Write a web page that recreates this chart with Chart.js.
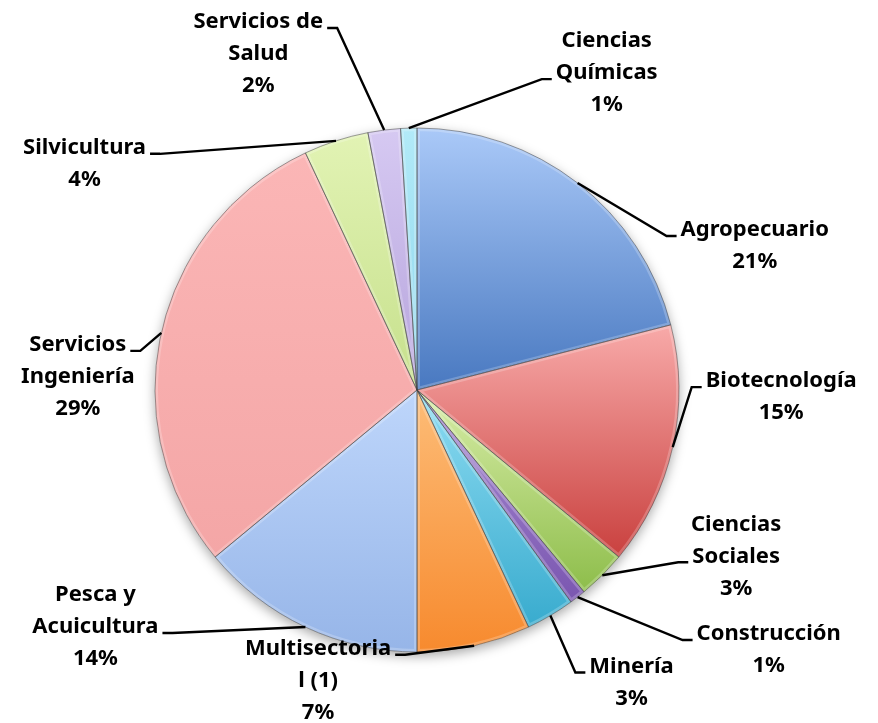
<!DOCTYPE html>
<html>
<head>
<meta charset="utf-8">
<script src="https://cdn.jsdelivr.net/npm/chart.js@4/dist/chart.umd.min.js"></script>
<style>
  body { margin: 0; background: #fff; }
  canvas { display: block; }
</style>
</head>
<body>
<canvas id="pie" width="878" height="723"></canvas>
<script>
// datos
const categories = [
  "Agropecuario", "Biotecnología", "Ciencias Sociales", "Construcción", "Minería",
  "Multisectorial (1)", "Pesca y Acuicultura", "Servicios Ingeniería", "Silvicultura",
  "Servicios de Salud", "Ciencias Químicas"
];
const values = [21, 15, 3, 1, 3, 7, 14, 29, 4, 2, 1];

// como se parten las etiquetas (igual que en el original)
const labelLines = [
  ["Agropecuario"], ["Biotecnología"], ["Ciencias", "Sociales"], ["Construcción"], ["Minería"],
  ["Multisectoria", "l (1)"], ["Pesca y", "Acuicultura"], ["Servicios", "Ingeniería"], ["Silvicultura"],
  ["Servicios de", "Salud"], ["Ciencias", "Químicas"]
];

// estilos
const lightColors = ["#aac9f8", "#f8aaa9", "#d8eda8", "#a88dd2", "#8edcf2", "#fdbd78",
                     "#bed6fb", "#fbb6b6", "#e2f3b4", "#d6c9f2", "#b2eaf8"];
const darkColors  = ["#4878c0", "#c9403e", "#8dbd4a", "#7a56b0", "#38abce", "#f78a2e",
                     "#96b5e8", "#f4a6a6", "#c6e08c", "#b6a4dc", "#8ed6ec"];

// codo de cada linea guia, relativo al punto medio del arco; 'line' = renglon al que llega
const labelOffsets = [
  { dx: 89, dy: 53, line: 0 },
  { dx: 19, dy: -60, line: 0 },
  { dx: 76, dy: -13, line: 1 },
  { dx: 105, dy: 43, line: 0 },
  { dx: 25, dy: 57, line: 0 },
  { dx: -69, dy: 9, line: 0 },
  { dx: -133, dy: 6, line: 1 },
  { dx: -21, dy: 18, line: 0 },
  { dx: -176, dy: 13, line: 0 },
  { dx: -47, dy: -102, line: 0 },
  { dx: 133, dy: -49, line: 1 }
];

const FONT = "bold 22px 'Noto Sans'";
const LINE_H = 32;

function arcPath(ctx, a) {
  ctx.beginPath();
  ctx.moveTo(a.x, a.y);
  ctx.arc(a.x, a.y, a.outerRadius, a.startAngle, a.endAngle);
  ctx.closePath();
}

const sliceStyle = {
  id: "sliceStyle",
  beforeDatasetsDraw(chart) {
    const ctx = chart.ctx;
    const arcs = chart.getDatasetMeta(0).data;
    // sombra del pastel
    const a0 = arcs[0].getProps(["x", "y", "outerRadius"]);
    ctx.save();
    ctx.shadowColor = "rgba(0,0,0,0.35)";
    ctx.shadowBlur = 12;
    ctx.shadowOffsetY = 4;
    ctx.beginPath();
    ctx.arc(a0.x, a0.y, a0.outerRadius, 0, Math.PI * 2);
    ctx.fillStyle = "#fff";
    ctx.fill();
    ctx.restore();
    // degradado vertical por sector
    arcs.forEach((arc, i) => {
      const a = arc.getProps(["x", "y", "startAngle", "endAngle", "outerRadius"]);
      let ys = [a.y, a.y + a.outerRadius * Math.sin(a.startAngle), a.y + a.outerRadius * Math.sin(a.endAngle)];
      [-Math.PI / 2, Math.PI / 2, Math.PI * 1.5].forEach(t => {
        if (t > a.startAngle && t < a.endAngle) ys.push(a.y + a.outerRadius * Math.sin(t));
      });
      const y0 = Math.min(...ys), y1 = Math.max(...ys);
      const g = ctx.createLinearGradient(0, y0, 0, y1 + 1);
      g.addColorStop(0, lightColors[i]);
      g.addColorStop(1, darkColors[i]);
      arc.options.backgroundColor = g;
    });
  },
  afterDatasetsDraw(chart) {
    const ctx = chart.ctx;
    const arcs = chart.getDatasetMeta(0).data;
    arcs.forEach(arc => {
      const a = arc.getProps(["x", "y", "startAngle", "endAngle", "outerRadius"]);
      ctx.save();
      arcPath(ctx, a);
      ctx.clip();
      ctx.strokeStyle = "rgba(255,255,255,0.22)";
      ctx.lineWidth = 6;
      ctx.lineJoin = "round";
      arcPath(ctx, a);
      ctx.stroke();
      ctx.restore();
      ctx.save();
      ctx.strokeStyle = "rgba(60,60,60,0.5)";
      ctx.lineWidth = 1;
      arcPath(ctx, a);
      ctx.stroke();
      ctx.restore();
    });
  }
};

const leaderLabels = {
  id: "leaderLabels",
  afterDraw(chart) {
    const ctx = chart.ctx;
    const arcs = chart.getDatasetMeta(0).data;
    const total = values.reduce((s, v) => s + v, 0);
    ctx.save();
    ctx.font = FONT;
    ctx.fillStyle = "#000";
    ctx.textBaseline = "middle";
    ctx.textAlign = "center";
    arcs.forEach((arc, i) => {
      const a = arc.getProps(["x", "y", "startAngle", "endAngle", "outerRadius"]);
      const mid = (a.startAngle + a.endAngle) / 2;
      const px = a.x + a.outerRadius * Math.cos(mid);
      const py = a.y + a.outerRadius * Math.sin(mid);
      const off = labelOffsets[i];
      const ex = px + off.dx, ey = py + off.dy;
      const right = off.dx > 0;
      const hx = right ? ex + 10 : ex - 10;
      ctx.strokeStyle = "#000";
      ctx.lineWidth = 2.4;
      ctx.beginPath();
      ctx.moveTo(px, py);
      ctx.lineTo(ex, ey);
      ctx.lineTo(hx, ey);
      ctx.stroke();

      const lines = labelLines[i].concat([Math.round(values[i] / total * 100) + "%"]);
      const w = ctx.measureText(lines[off.line]).width;
      const cx = right ? hx + 4 + w / 2 : hx - 4 - w / 2;
      const firstY = ey - 6 - off.line * LINE_H;
      lines.forEach((t, k) => ctx.fillText(t, cx, firstY + k * LINE_H));
    });
    ctx.restore();
  }
};

new Chart(document.getElementById("pie"), {
  type: "pie",
  data: {
    labels: categories,
    datasets: [{
      data: values,
      backgroundColor: darkColors,
      borderWidth: 0
    }]
  },
  options: {
    responsive: false,
    animation: false,
    layout: { padding: { left: 155, right: 199, top: 128, bottom: 71 } },
    plugins: {
      legend: { display: false },
      tooltip: { enabled: false }
    }
  },
  plugins: [sliceStyle, leaderLabels]
});
</script>
</body>
</html>
